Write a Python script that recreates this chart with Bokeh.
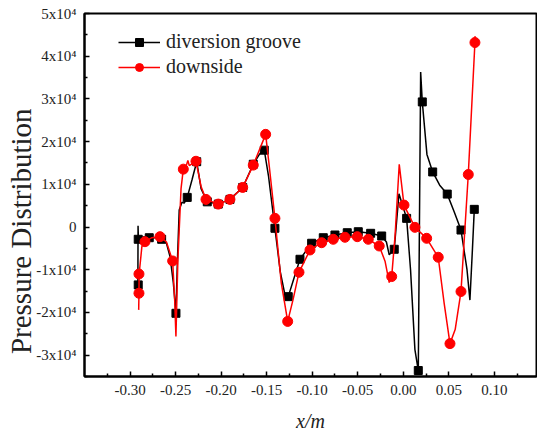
from bokeh.plotting import figure
from bokeh.models import Range1d, FixedTicker, Legend, LegendItem
from bokeh.embed import file_html
from bokeh.resources import INLINE

# ---- data ----
black_line_x = [-0.2914, -0.2912, -0.2908, -0.2850, -0.2789, -0.2720, -0.2653, -0.2600, -0.2560,
                -0.2525, -0.2496, -0.2480, -0.2460, -0.2430, -0.2405, -0.2372, -0.2320, -0.2268,
                -0.2220, -0.2152, -0.2031, -0.1903, -0.1763, -0.1647, -0.1580, -0.1526, -0.1480,
                -0.1409, -0.1350, -0.1300, -0.1263, -0.1200, -0.1134, -0.1006, -0.0878, -0.0750,
                -0.0615, -0.0494, -0.0358, -0.0237, -0.0185, -0.0154, -0.0099, -0.0047, 0.0037,
                0.0080, 0.0128, 0.0165, 0.0191, 0.0209, 0.0260, 0.0323, 0.0400, 0.0483, 0.0560,
                0.0634, 0.0700, 0.0732, 0.0760, 0.0780]
black_line_y = [-13600, 300, -2870, -2300, -2500, -2500, -2870, -3800, -7000,
                -13000, -20200, -8000, 4000, 5800, 5600, 6940, 11000, 15300,
                9000, 5900, 5370, 6470, 9270, 14700, 17000, 18000, 12000,
                -300, -10500, -15800, -16300, -12000, -7550, -3800, -2500, -1870,
                -1330, -1100, -1470, -2100, -3500, -6500, -5210, 7800, 2030,
                -10000, -28700, -33600, 36300, 29300, 17000, 12900, 9800, 7710, 3500,
                -700, -10000, -17100, -5000, 4140]

black_mark_x = [-0.2910, -0.2910, -0.2789, -0.2653, -0.2496, -0.2372, -0.2268, -0.2152, -0.2031,
                -0.1903, -0.1763, -0.1647, -0.1526, -0.1409, -0.1263, -0.1134, -0.1006, -0.0878,
                -0.0750, -0.0615, -0.0494, -0.0358, -0.0237, -0.0099, 0.0037, 0.0165, 0.0209,
                0.0323, 0.0483, 0.0634, 0.0780]
black_mark_y = [-13550, -2870, -2500, -2870, -20200, 6940, 15300, 5900, 5370,
                6470, 9270, 14700, 18000, -300, -16300, -7550, -3800, -2500,
                -1870, -1330, -1100, -1470, -2100, -5210, 2030, -33600, 29300,
                12900, 7710, -700, 4140]

red_line_x = [-0.2905, -0.2902, -0.2900, -0.2870, -0.2836, -0.2760, -0.2671, -0.2600, -0.2532,
              -0.2510, -0.2496, -0.2475, -0.2440, -0.2415, -0.2385, -0.2365, -0.2350, -0.2276,
              -0.2220, -0.2166, -0.2031, -0.1903, -0.1763, -0.1647, -0.1511, -0.1470, -0.1409,
              -0.1340, -0.1269, -0.1210, -0.1145, -0.1024, -0.0896, -0.0769, -0.0640, -0.0505,
              -0.0384, -0.0264, -0.0200, -0.0154, -0.0127, -0.0090, -0.0044, 0.0008, 0.0128,
              0.0257, 0.0384, 0.0450, 0.0513, 0.0570, 0.0634, 0.0714, 0.0787, 0.0789]
red_line_y = [-19400, -15500, -11000, -4600, -3430, -2500, -2260, -3500, -7940,
              -17000, -25600, -8000, 9000, 13550, 14200, 15600, 14400, 15400,
              9500, 6470, 5370, 6470, 9270, 14500, 21700, 14000, 2030,
              -13000, -22100, -17000, -10600, -5370, -3670, -2870, -2400, -2260,
              -2870, -4440, -8000, -13000, -11600, -2000, 14700, 5140, -70,
              -2640, -7080, -18000, -27300, -24000, -15100, 12300, 43200, 44700]

red_mark_x = [-0.2902, -0.2902, -0.2836, -0.2671, -0.2532, -0.2415, -0.2276, -0.2166, -0.2031,
              -0.1903, -0.1763, -0.1647, -0.1511, -0.1409, -0.1269, -0.1145, -0.1024, -0.0896,
              -0.0769, -0.0640, -0.0505, -0.0384, -0.0264, -0.0127, 0.0008, 0.0128, 0.0257,
              0.0384, 0.0513, 0.0634, 0.0714, 0.0787]
red_mark_y = [-11000, -15500, -3430, -2260, -7940, 13550, 15400, 6470, 5370,
              6470, 9270, 14500, 21700, 2030, -22100, -10600, -5370, -3670,
              -2870, -2400, -2260, -2870, -4440, -11600, 5140, -70, -2640,
              -7080, -27300, -15100, 12300, 43200]

series_names = ["diversion groove", "downside"]

x_ticks = [-0.30, -0.25, -0.20, -0.15, -0.10, -0.05, 0.00, 0.05, 0.10]
x_tick_labels = ["-0.30", "-0.25", "-0.20", "-0.15", "-0.10", "-0.05", "0.00", "0.05", "0.10"]
x_minor = [-0.325, -0.275, -0.225, -0.175, -0.125, -0.075, -0.025, 0.025, 0.075, 0.125]
y_ticks = [-30000, -20000, -10000, 0, 10000, 20000, 30000, 40000, 50000]
y_tick_labels = ["-3x10\u2074", "-2x10\u2074", "-1x10\u2074", "0", "1x10\u2074",
                 "2x10\u2074", "3x10\u2074", "4x10\u2074", "5x10\u2074"]
y_minor = [-35000, -25000, -15000, -5000, 5000, 15000, 25000, 35000, 45000]

x_title = "x/m"
y_title = "Pressure Distribution"

FONT = "Liberation Serif"
TXT = "#222222"

p = figure(width=537, height=434, output_backend="svg", toolbar_location=None,
           x_range=Range1d(-0.35, 0.1463), y_range=Range1d(-35000, 50000),
           min_border_left=84, min_border_right=1, min_border_top=13, min_border_bottom=57)
p.background_fill_color = "white"
p.border_fill_color = "white"
p.xgrid.visible = False
p.ygrid.visible = False
p.outline_line_color = "black"
p.outline_line_width = 2

bl = p.line(black_line_x, black_line_y, line_color="black", line_width=1.5)
bm = p.scatter(black_mark_x, black_mark_y, marker="square", size=8, fill_color="black", line_color="black")
rl = p.line(red_line_x, red_line_y, line_color="#ff0000", line_width=1.5)
rm = p.scatter(red_mark_x, red_mark_y, marker="circle", size=10, fill_color="#ff0000", line_color="#ff0000")

for ax in (p.xaxis[0], p.yaxis[0]):
    ax.axis_line_width = 2
    ax.axis_line_color = "black"
    ax.major_tick_in = 5
    ax.major_tick_out = 0
    ax.minor_tick_in = 3
    ax.minor_tick_out = 0
    ax.major_tick_line_width = 1.5
    ax.minor_tick_line_width = 1.5
    ax.major_label_text_font = FONT
    ax.major_label_text_font_size = "15px"
    ax.major_label_text_color = TXT
    ax.major_label_standoff = 8
    ax.axis_label_text_font = FONT
    ax.axis_label_text_color = TXT

p.xaxis[0].ticker = FixedTicker(ticks=x_ticks, minor_ticks=x_minor)
p.xaxis[0].major_label_overrides = {t: l for t, l in zip(x_ticks, x_tick_labels)}
p.yaxis[0].ticker = FixedTicker(ticks=y_ticks, minor_ticks=y_minor)
p.yaxis[0].major_label_overrides = {t: l for t, l in zip(y_ticks, y_tick_labels)}

p.xaxis[0].axis_label = x_title
p.xaxis[0].axis_label_text_font_size = "20px"
p.xaxis[0].axis_label_text_font_style = "italic"
p.xaxis[0].axis_label_standoff = 12

# trailing no-break spaces shift the rotated title down toward the reference position
p.yaxis[0].axis_label = y_title + "\u00a0" * 10
p.yaxis[0].axis_label_text_font_size = "29px"
p.yaxis[0].axis_label_text_font_style = "normal"
p.yaxis[0].axis_label_standoff = -4

legend = Legend(items=[LegendItem(label=series_names[0], renderers=[bl, bm]),
                       LegendItem(label=series_names[1], renderers=[rl, rm])],
                location=(34, 298))
legend.label_text_font = FONT
legend.label_text_font_size = "20px"
legend.label_text_color = TXT
legend.glyph_width = 42
legend.glyph_height = 20
legend.label_standoff = 6
legend.spacing = 2
legend.padding = 0
legend.margin = 0
legend.border_line_color = None
legend.background_fill_alpha = 0
p.add_layout(legend)

open("out.html", "w").write(file_html(p, INLINE))
